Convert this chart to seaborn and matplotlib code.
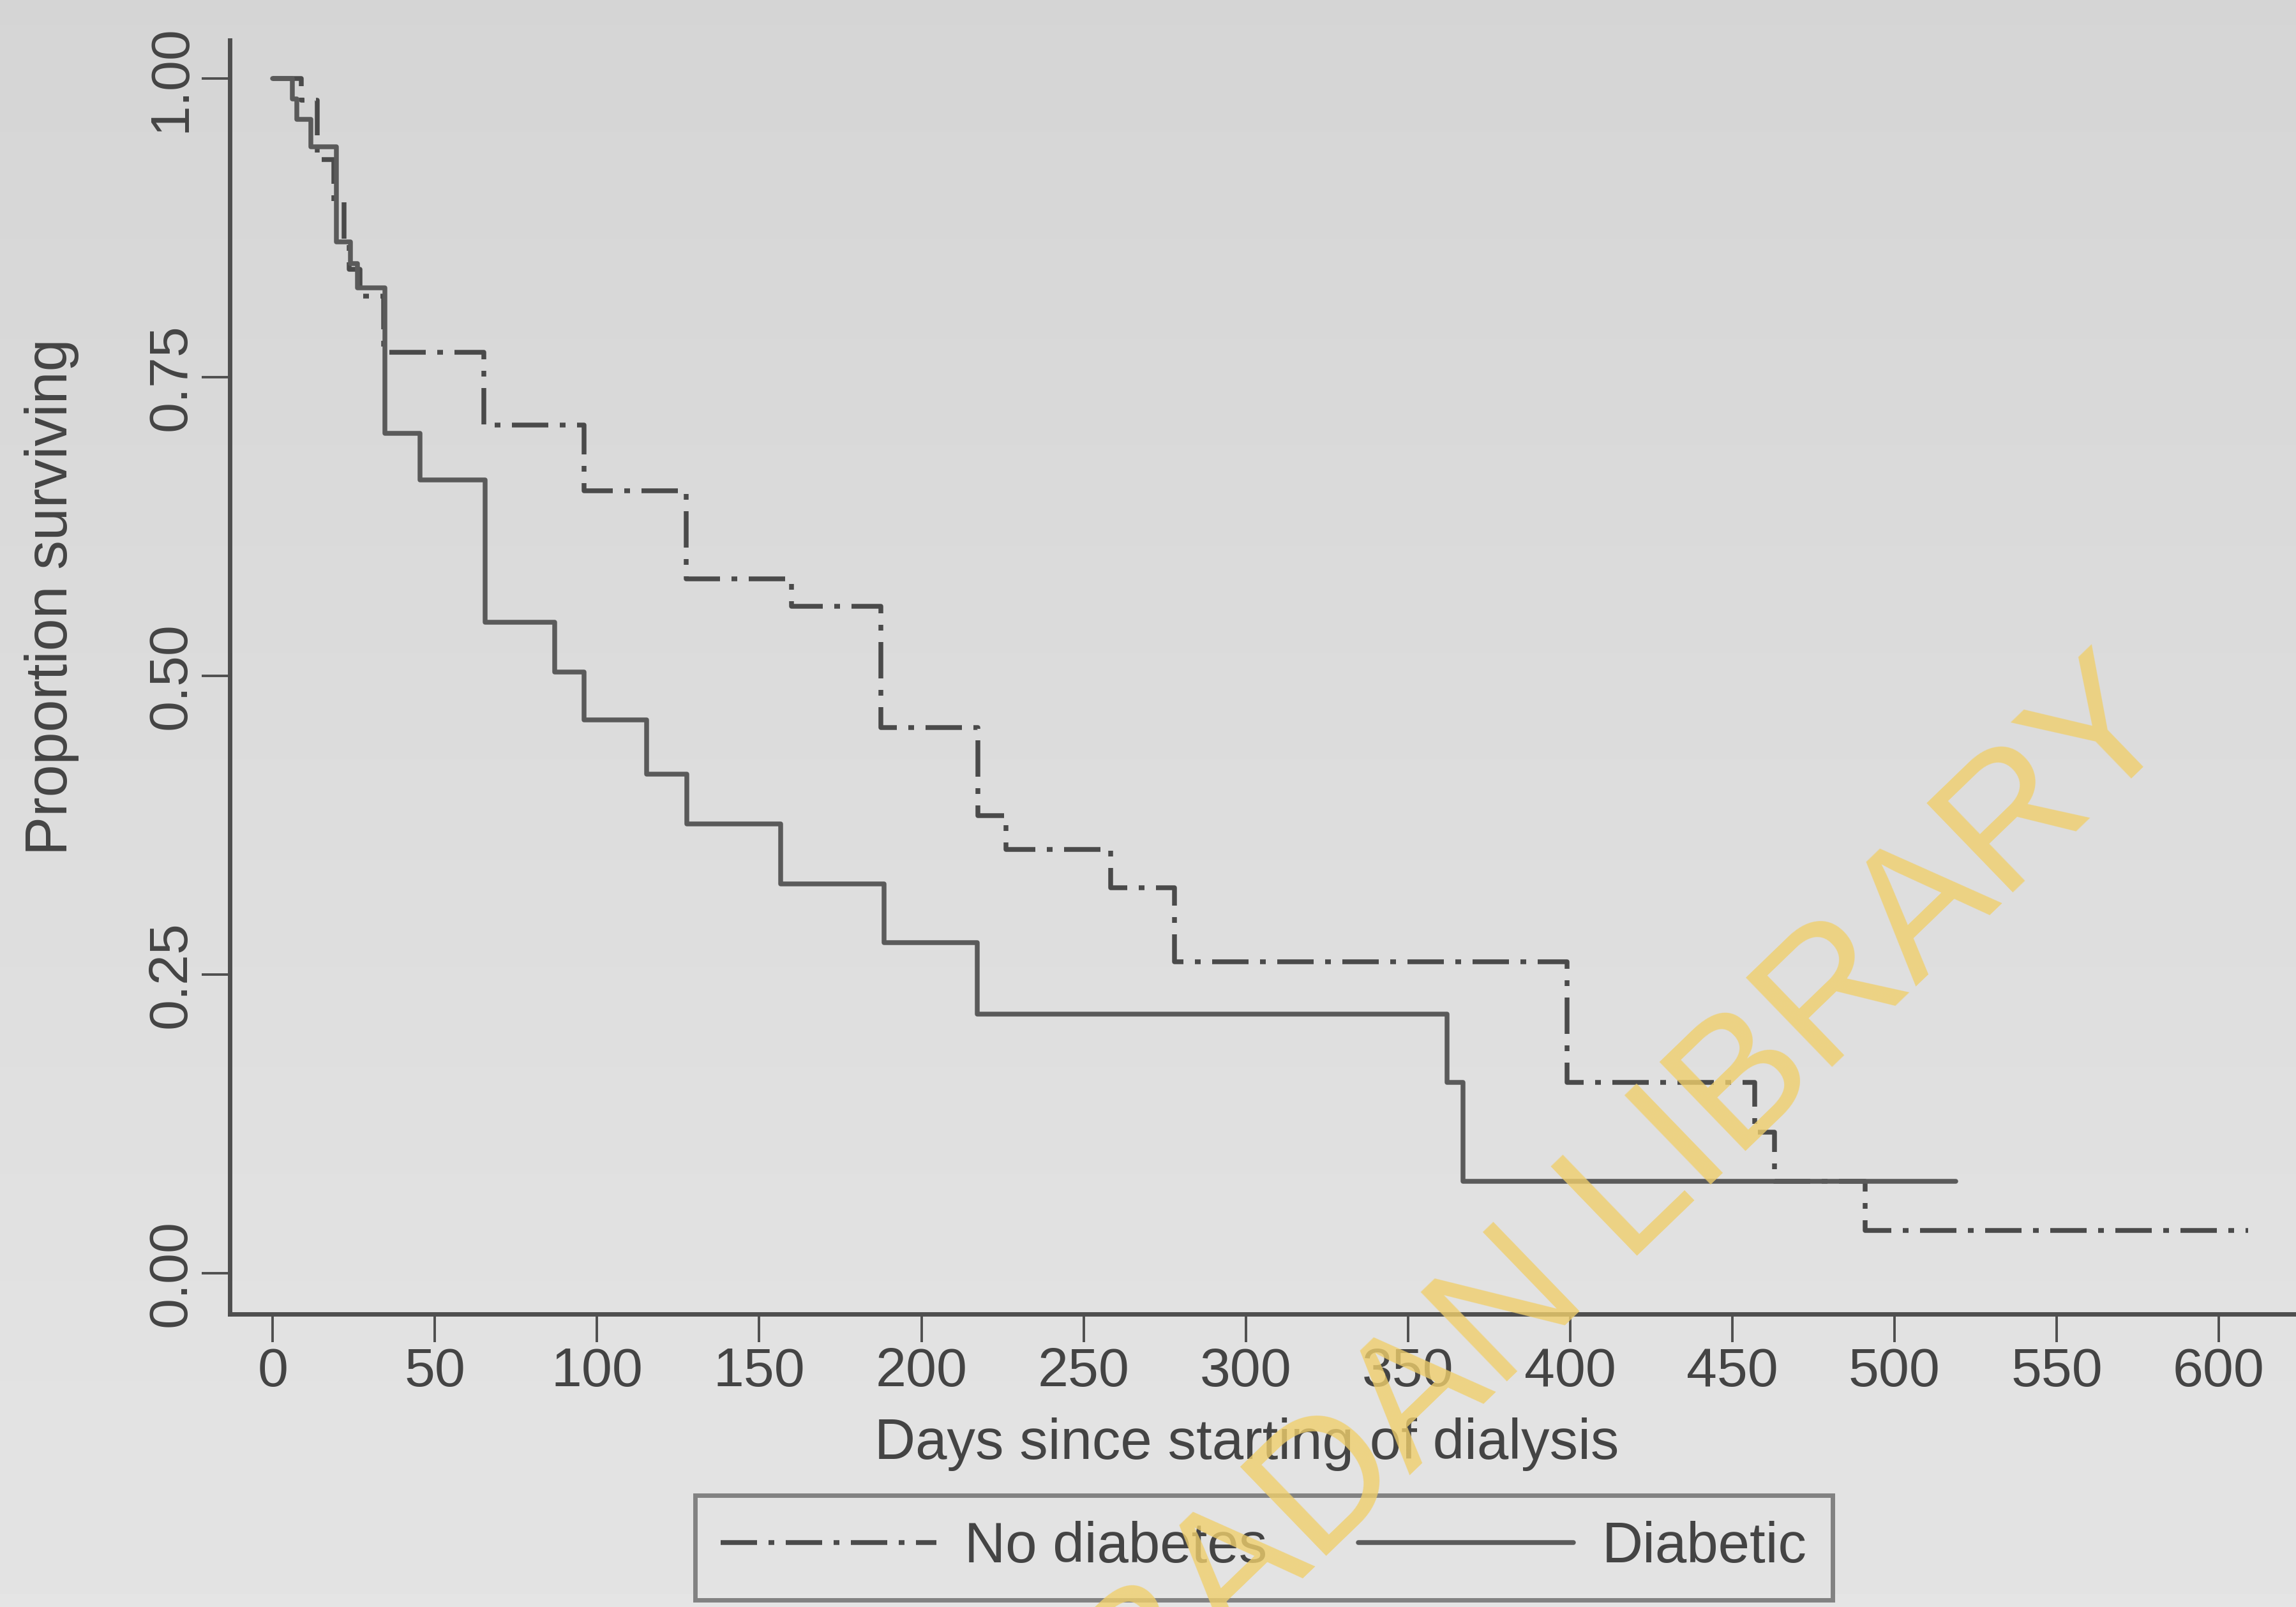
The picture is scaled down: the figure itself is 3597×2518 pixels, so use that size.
import numpy as np
import pandas as pd
import matplotlib
matplotlib.use('Agg')
import matplotlib.pyplot as plt
import seaborn as sns

# Kaplan-Meier steps (day, proportion surviving)
noDiabDays = [0, 8.8, 13.7, 18.9, 21.9, 23.5, 27, 34.2, 65, 96, 127.5, 160, 187.5,
              217.5, 226, 258.4, 278, 399, 457, 463, 491, 609]
noDiabSurv = [1.0, 0.982, 0.932, 0.897, 0.862, 0.84, 0.818, 0.771, 0.710, 0.655, 0.581,
              0.558, 0.457, 0.383, 0.355, 0.323, 0.261, 0.160, 0.118, 0.077, 0.036, 0.036]

diabDays = [0, 6, 7.5, 11.7, 19.6, 24, 26.2, 34.5, 45.5, 65.5, 87, 96, 115.3, 127.7,
            156.7, 188.4, 217.2, 362, 367, 519]
diabSurv = [1.0, 0.983, 0.966, 0.943, 0.863, 0.845, 0.825, 0.703, 0.664, 0.545, 0.503,
            0.463, 0.418, 0.376, 0.326, 0.277, 0.217, 0.160, 0.077, 0.077]

groups = ['No diabetes', 'Diabetic']
xTicks = list(range(0, 601, 50))
yTicks = [0.0, 0.25, 0.50, 0.75, 1.00]
yTickLabels = ['0.00', '0.25', '0.50', '0.75', '1.00']

df = pd.concat([
    pd.DataFrame({'days': noDiabDays, 'surv': noDiabSurv, 'group': groups[0]}),
    pd.DataFrame({'days': diabDays, 'surv': diabSurv, 'group': groups[1]}),
], ignore_index=True)

sns.set_theme(style='ticks')
plt.rcParams['font.family'] = ['Liberation Sans', 'DejaVu Sans']

inkColor = '#4f4f4f'
textColor = '#444444'

fig = plt.figure(figsize=(17.99, 12.59), dpi=200)

# scanned page background, slightly darker toward the top
bg = fig.add_axes([0, 0, 1, 1], zorder=-10)
grad = np.linspace(0.835, 0.895, 256).reshape(-1, 1)
bg.imshow(grad, cmap='gray', vmin=0, vmax=1, aspect='auto', extent=[0, 1, 0, 1])
bg.set_axis_off()

ax = fig.add_axes([0.1001, 0.1823, 0.8999, 0.7927])
ax.set_facecolor('none')

sns.lineplot(data=df, x='days', y='surv', hue='group', style='group',
             hue_order=groups, style_order=groups,
             palette={'No diabetes': '#4a4a4a', 'Diabetic': '#5a5a5a'},
             dashes={'No diabetes': (7.6, 2.4, 1.2, 2.4), 'Diabetic': ''},
             estimator=None, drawstyle='steps-post', linewidth=2.7,
             legend=False, ax=ax)

ax.set_xlim(-13.2, 624)
ax.set_ylim(-0.034, 1.032)
ax.set_xticks(xTicks)
ax.set_yticks(yTicks)
ax.set_yticklabels(yTickLabels)

for side in ['top', 'right']:
    ax.spines[side].set_visible(False)
for side in ['left', 'bottom']:
    ax.spines[side].set_color(inkColor)
    ax.spines[side].set_linewidth(2.5)

ax.tick_params(axis='both', length=16, width=1.4, color=inkColor,
               labelsize=31, labelcolor=textColor, pad=2.5)
for lbl in ax.get_yticklabels():
    lbl.set_rotation(90)
    lbl.set_va('center')

ax.set_xlabel('Days since starting of dialysis', fontsize=32, color=textColor)
ax.set_ylabel('Proportion surviving', fontsize=33, color=textColor)
ax.xaxis.set_label_coords(0.492, -0.081)
ax.yaxis.set_label_coords(-0.073, 0.563)

handles = ax.get_lines()[:2]
leg = fig.legend(handles, groups, loc='center', bbox_to_anchor=(0.5503, 0.0369),
                 ncol=2, frameon=True, fancybox=False, fontsize=32,
                 handlelength=3.8, handletextpad=0.5, columnspacing=1.6,
                 borderpad=0.45, labelcolor=textColor)
leg.get_frame().set_edgecolor('#6a6a6a')
leg.get_frame().set_linewidth(2.5)
leg.get_frame().set_facecolor('none')

# library stamp across the plot
fig.text(0.7015, 0.2434, 'IBADAN LIBRARY', rotation=44, ha='center', va='center',
         rotation_mode='anchor', fontsize=102, color='#f0cf6c', alpha=0.8, zorder=20)

fig.savefig('out.png', dpi=200)
